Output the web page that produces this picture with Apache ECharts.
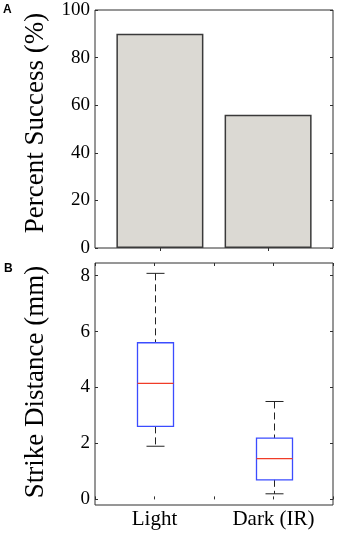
<!DOCTYPE html>
<html>
<head>
<meta charset="utf-8">
<script src="https://cdn.jsdelivr.net/npm/echarts@6/dist/echarts.min.js"></script>
<style>
  html, body { margin: 0; padding: 0; background: #fff; }
  #chart { width: 340px; height: 536px; }
</style>
</head>
<body>
<div id="chart"></div>
<script>
const categories = ["Light", "Dark (IR)"];
const successPct = [90, 56];
// per category: [lower whisker, q1, median, q3, upper whisker]
const strikeBoxes = [
  [1.9, 2.61, 4.15, 5.6, 8.08],
  [0.2, 0.7, 1.46, 2.19, 3.5],
];
const successTicks = [0, 20, 40, 60, 80, 100];
const strikeTicks = [0, 2, 4, 6, 8];

const SERIF = "Liberation Serif";
const INK = "#2e2e2e";

const chart = echarts.init(document.getElementById("chart"));

const tickOnly = (extra) =>
  Object.assign(
    {
      axisLine: { show: false },
      axisLabel: { show: false },
      splitLine: { show: false },
      axisTick: { show: true, inside: true, length: 3, lineStyle: { color: INK } },
    },
    extra
  );

const options = {
  animation: false,
  backgroundColor: "#fff",
  grid: [
    { left: 95, top: 10, width: 238, height: 238, show: true, borderColor: INK, borderWidth: 1, backgroundColor: "transparent" },
    { left: 95, top: 263, width: 238, height: 242, show: true, borderColor: INK, borderWidth: 1, backgroundColor: "transparent" },
  ],
  xAxis: [
    tickOnly({ gridIndex: 0, type: "value", min: 0.4, max: 2.6, position: "bottom",
      axisTick: { show: true, inside: true, length: 3, customValues: [1, 2], lineStyle: { color: INK } } }),
    tickOnly({ gridIndex: 0, type: "value", min: 0.4, max: 2.6, position: "top",
      axisTick: { show: true, inside: true, length: 3, customValues: [1, 2], lineStyle: { color: INK } } }),
    {
      gridIndex: 1, type: "category", data: categories, boundaryGap: true, position: "bottom",
      axisLine: { show: false }, axisTick: { show: false }, splitLine: { show: false },
      axisLabel: { color: "#000", fontFamily: SERIF, fontSize: 21, margin: 4 },
    },
    tickOnly({ gridIndex: 1, type: "value", min: 0.5, max: 2.5, interval: 0.5, position: "bottom" }),
    tickOnly({ gridIndex: 1, type: "value", min: 0.5, max: 2.5, interval: 0.5, position: "top" }),
  ],
  yAxis: [
    {
      gridIndex: 0, type: "value", min: 0, max: 100, interval: 20, position: "left",
      axisLine: { show: false }, splitLine: { show: false },
      axisTick: { show: true, inside: true, length: 3, lineStyle: { color: INK } },
      axisLabel: { color: "#000", fontFamily: SERIF, fontSize: 19, margin: 5,
        customValues: successTicks },
    },
    tickOnly({ gridIndex: 0, type: "value", min: 0, max: 100, interval: 20, position: "right" }),
    {
      gridIndex: 1, type: "value", min: -0.2, max: 8.45, position: "left",
      axisLine: { show: false }, splitLine: { show: false },
      axisTick: { show: true, inside: true, length: 3, customValues: strikeTicks, lineStyle: { color: INK } },
      axisLabel: { color: "#000", fontFamily: SERIF, fontSize: 19, margin: 5, customValues: strikeTicks },
    },
    tickOnly({ gridIndex: 1, type: "value", min: -0.2, max: 8.45, position: "right",
      axisTick: { show: true, inside: true, length: 3, customValues: strikeTicks, lineStyle: { color: INK } } }),
  ],
  series: [
    {
      type: "bar",
      xAxisIndex: 0,
      yAxisIndex: 0,
      barWidth: 87,
      data: successPct.map((v, i) => [i + 1, v]),
      itemStyle: { color: "#dbd9d3", borderColor: "#3a3a3a", borderWidth: 1.5 },
    },
    {
      type: "custom",
      xAxisIndex: 2,
      yAxisIndex: 2,
      data: strikeBoxes.map((b, i) => [i].concat(b)),
      renderItem: function (params, api) {
        const i = api.value(0);
        const lo = api.coord([i, api.value(1)]);
        const q1 = api.coord([i, api.value(2)]);
        const md = api.coord([i, api.value(3)]);
        const q3 = api.coord([i, api.value(4)]);
        const hi = api.coord([i, api.value(5)]);
        const cx = Math.round(lo[0]) + 0.5;
        const bw = 36, cw = 18;
        const dash = { stroke: "#222", lineWidth: 1, lineDash: [7, 4] };
        const solid = { stroke: "#222", lineWidth: 1 };
        return {
          type: "group",
          children: [
            { type: "line", shape: { x1: cx, y1: hi[1], x2: cx, y2: q3[1] }, style: dash },
            { type: "line", shape: { x1: cx, y1: q1[1], x2: cx, y2: lo[1] }, style: dash },
            { type: "line", shape: { x1: cx - cw / 2, y1: hi[1], x2: cx + cw / 2, y2: hi[1] }, style: solid },
            { type: "line", shape: { x1: cx - cw / 2, y1: lo[1], x2: cx + cw / 2, y2: lo[1] }, style: solid },
            { type: "rect", shape: { x: cx - bw / 2, y: q3[1], width: bw, height: q1[1] - q3[1] },
              style: { fill: "none", stroke: "#3b4cff", lineWidth: 1.3 } },
            { type: "line", shape: { x1: cx - bw / 2, y1: md[1], x2: cx + bw / 2, y2: md[1] },
              style: { stroke: "#f03c28", lineWidth: 1.3 } },
          ],
        };
      },
    },
  ],
  graphic: [
    { type: "text", left: 3, top: 4, style: { text: "A", font: "bold 12px Liberation Sans", fill: "#000" } },
    { type: "text", left: 4, top: 263, style: { text: "B", font: "bold 12px Liberation Sans", fill: "#000" } },
    {
      type: "text", x: 36, y: 123, rotation: Math.PI / 2,
      style: { text: "Percent Success (%)", font: "27px Liberation Serif", fill: "#000",
        align: "center", verticalAlign: "middle" },
    },
    {
      type: "text", x: 36, y: 382, rotation: Math.PI / 2,
      style: { text: "Strike Distance (mm)", font: "27px Liberation Serif", fill: "#000",
        align: "center", verticalAlign: "middle" },
    },
  ],
};

chart.setOption(options);
</script>
</body>
</html>
